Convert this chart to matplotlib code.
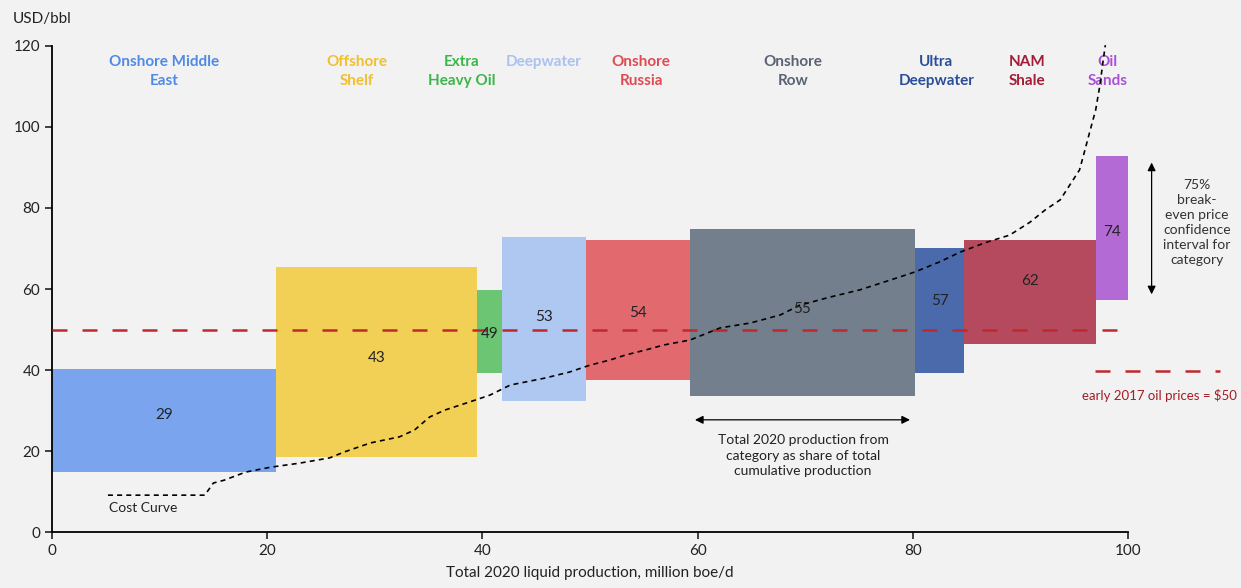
import numpy as np
import matplotlib.pyplot as plt

# categories and break-even prices
categories = ['Onshore Middle\nEast', 'Offshore\nShelf', 'Extra\nHeavy Oil', 'Deepwater',
              'Onshore\nRussia', 'Onshore\nRow', 'Ultra\nDeepwater', 'NAM\nShale', 'Oil\nSands']
widths = [20.8, 18.7, 2.3, 7.8, 9.7, 20.9, 4.6, 12.2, 3.0]   # million boe/d
low = [14.8, 18.5, 39.3, 32.3, 37.5, 33.6, 39.3, 46.4, 57.3]
high = [40.2, 65.4, 59.8, 72.8, 72.1, 74.8, 70.1, 72.1, 92.8]
breakeven = [29, 43, 49, 53, 54, 55, 57, 62, 74]

bar_colors = ['#7aa5ee', '#f2cf55', '#6cc573', '#aec8f2', '#e2696d',
              '#737f8c', '#4a6aab', '#b54a5e', '#b36ad4']
text_colors = ['#4f8ae6', '#f0c030', '#3cb54a', '#a9c2f0', '#e04a52',
               '#5a6372', '#2a4f9a', '#a31c38', '#a851d6']
label_dx = [0, -1.8, -2.6, 0, 0.3, -0.9, -0.3, -0.3, -0.4]

# cost curve
curve_x = [5.2, 14.2, 15.0, 16.0, 18.0, 20.3, 23.0, 25.8, 27.2, 29.6, 32.3, 33.7, 35.1,
           36.5, 38.8, 40.7, 42.6, 45.8, 48.1, 50.0, 51.9, 53.3, 55.1, 56.9, 59.3, 62.1,
           64.9, 67.7, 69.5, 72.3, 75.1, 77.9, 80.2, 82.5, 84.4, 86.7, 89.0, 90.9, 92.3,
           93.7, 94.6, 95.5, 96.0, 96.5, 97.0, 97.4, 97.7, 97.9]
curve_y = [9.1, 9.1, 12.1, 12.8, 14.8, 16.0, 17.0, 18.3, 19.8, 22.0, 23.5, 25.2, 28.4,
           30.1, 32.1, 33.8, 36.3, 38.0, 39.5, 41.2, 42.5, 43.7, 44.9, 46.2, 47.4, 50.4,
           51.6, 53.6, 56.0, 58.0, 59.8, 62.2, 64.2, 66.7, 69.1, 71.4, 73.3, 76.5, 79.5,
           82.0, 85.7, 89.4, 94.3, 99.3, 104.2, 110.4, 116.5, 120.2]

oil_price = 50

bg = '#f2f2f2'
plt.rcParams['font.family'] = ['Lato', 'DejaVu Sans']
fig = plt.figure(figsize=(12.41, 5.88), dpi=100, facecolor=bg)
ax = fig.add_axes([0.0419, 0.0952, 0.8670, 0.8266], facecolor=bg)

left = np.concatenate([[0], np.cumsum(widths)[:-1]])
ax.bar(left, np.array(high) - np.array(low), width=widths, bottom=low,
       align='edge', color=bar_colors, linewidth=0, zorder=2)

for i, v in enumerate(breakeven):
    cx = left[i] + widths[i] / 2
    ax.text(cx, v, str(v), ha='center', va='center', fontsize=11, color='#222222', zorder=5)
    ax.text(cx + label_dx[i], 117.8, categories[i], ha='center', va='top', fontsize=11,
            fontweight='bold', color=text_colors[i], linespacing=1.5)

ax.plot(curve_x, curve_y, color='black', linestyle=(0, (3, 2.5)), linewidth=1.2, zorder=4,
        clip_on=False)
ax.text(5.3, 5.9, 'Cost Curve', fontsize=10, va='center', ha='left', color='#222222')

ax.axhline(oil_price, color='#c0282e', linewidth=1.8, dashes=(6, 6), zorder=3)

# annotations right
ax.annotate('', xy=(102.2, 91.9), xytext=(102.2, 58.0), xycoords='data',
            arrowprops=dict(arrowstyle='<|-|>', color='black', lw=0.9, mutation_scale=12),
            annotation_clip=False)
ax.text(106.4, 76.5, '75%\nbreak-\neven price\nconfidence\ninterval for\ncategory',
        ha='center', va='center', fontsize=10, color='#333333', clip_on=False, linespacing=1.3)
ax.plot([96.9, 108.6], [39.8, 39.8], color='#c0282e', linewidth=1.8, dashes=(6, 6),
        clip_on=False)
ax.text(0.997, 0.327, 'early 2017 oil prices = $50', ha='right', va='center', fontsize=9.5,
        color='#a51c24', transform=fig.transFigure)

# annotation bottom
ax.annotate('', xy=(59.5, 27.7), xytext=(80.0, 27.7),
            arrowprops=dict(arrowstyle='<|-|>', color='black', lw=0.9, mutation_scale=12))
ax.text(69.8, 18.8, 'Total 2020 production from\ncategory as share of total\ncumulative production',
        ha='center', va='center', fontsize=10, color='#222222', linespacing=1.35)

ax.set_xlim(0, 100)
ax.set_ylim(0, 120)
ax.set_xticks(range(0, 101, 20))
ax.set_yticks(range(0, 121, 20))
ax.tick_params(labelsize=11, colors='#222222', length=5, width=1.2)
for s in ['top', 'right']:
    ax.spines[s].set_visible(False)
for s in ['left', 'bottom']:
    ax.spines[s].set_linewidth(1.3)
ax.set_xlabel('Total 2020 liquid production, million boe/d', fontsize=11, color='#222222',
              labelpad=6)
fig.text(0.010, 0.967, 'USD/bbl', fontsize=11, color='#222222', va='center', ha='left')

fig.savefig('out.png', dpi=100, facecolor=bg)
